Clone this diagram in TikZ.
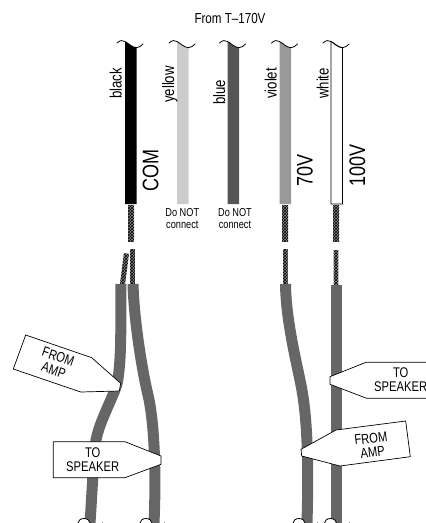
\documentclass[tikz,border=0pt]{standalone}
\usepackage{fontspec}
\usetikzlibrary{patterns}
\setmainfont[FakeStretch=0.8]{Liberation Sans}
\definecolor{cable}{HTML}{666666}
\definecolor{ylw}{HTML}{CCCCCC}
\definecolor{blu}{HTML}{555555}
\definecolor{vio}{HTML}{999999}
\tikzset{
  wirebar/.style={line width=0.8pt},
  wave/.style={line width=0.8pt, line cap=round},
  cablepath/.style={draw=cable, line width=11pt},
  braid/.style={pattern=crosshatch, pattern color=black, draw=none},
  tagbox/.style={draw=black, fill=white, line width=0.7pt, line join=round},
  tagtext/.style={font=\fontsize{14}{14}\selectfont, align=center, inner sep=0pt},
  colorlabel/.style={font=\fontsize{16.5}{16.5}\selectfont, rotate=90, anchor=base west, inner sep=0pt},
  taplabel/.style={font=\fontsize{22.5}{22.5}\selectfont, rotate=90, anchor=base west, inner sep=0pt},
  noconn/.style={font=\fontsize{11.5}{12}\selectfont, align=center, inner sep=0pt}
}
\newcommand{\wiretop}[1]{(#1,41.5) .. controls (#1+3,43) and (#1+7,47.5) .. (#1+11.5,47.7)}
\newcommand{\wavetop}[1]{\draw[wave] (#1-8,43) .. controls (#1-5,40) and (#1-2,40) .. (#1,41.5) .. controls (#1+3,43) and (#1+7,47.5) .. (#1+11.5,47.7) .. controls (#1+14,47.7) and (#1+16,46) .. (#1+18,44);}
\newcommand{\wavebot}[1]{\fill[white] (#1-6,523) arc (180:360:6 and 4.5) -- cycle;
  \draw[line width=0.8pt] (#1-6,523) arc (180:360:6 and 4.5);
  \fill[black!50] (#1+18,521.5) rectangle (#1+19,523);}
\begin{document}
\begin{tikzpicture}[x=1pt,y=-1pt]
\useasboundingbox (0,0) rectangle (426,523);
% upper braids
\foreach \x in {131,285,336}{
  \fill[black!45] (\x-3,205) rectangle (\x+3,241.5);
  \fill[braid] (\x-3,205) rectangle (\x+3,241.5);
}
% lower braids
\fill[black!45] (124,253) -- (129,254) -- (125,284) -- (120,284) -- cycle;
\fill[braid] (124,253) -- (129,254) -- (125,284) -- (120,284) -- cycle;
\foreach \x/\t in {132.5/249,285.3/249,336/250}{
  \fill[black!45] (\x-2.3,\t) rectangle (\x+2.3,285);
  \fill[braid] (\x-2.3,\t) rectangle (\x+2.3,285);
}
% cables
\draw[cablepath] (121,284) .. controls (120.5,320) and (122,360) .. (117,384) .. controls (112,400) and (100,420) .. (96,440) .. controls (93,465) and (92,495) .. (90,523);
\draw[cablepath] (133,284) .. controls (134,320) and (142,370) .. (148,395) .. controls (155,425) and (156,480) .. (154,523);
\draw[cablepath] (285.5,284) .. controls (286,320) and (296,360) .. (301,385) .. controls (308,420) and (308.5,470) .. (307,523);
\draw[cablepath] (336.5,285) -- (336.5,523);
% wires
\fill[black] \wiretop{125} -- (136.5,204) -- (125,204) -- cycle;
\fill[ylw] \wiretop{177} -- (188.5,204) -- (177,204) -- cycle;
\fill[blu] \wiretop{227.5} -- (239,204) -- (227.5,204) -- cycle;
\fill[vio] \wiretop{279.5} -- (291,204) -- (279.5,204) -- cycle;
\draw[wirebar, fill=white] \wiretop{331} -- (342.5,204) -- (331,204) -- cycle;
\wavetop{125}\wavetop{177}\wavetop{227.5}\wavetop{279.5}\wavetop{331}
\wavebot{84}\wavebot{146}\wavebot{299}\wavebot{330.5}
% texts
\node[inner sep=0pt, font=\fontsize{14.5}{14.5}\selectfont] (title) at (230,18.7) {From T–170V};
\node[colorlabel] (lblack) at (121.7,99) {black};
\node[colorlabel] (lyellow) at (174,103) {yellow};
\node[colorlabel] (lblue) at (225,105) {blue};
\node[colorlabel] (lviolet) at (276.7,99) {violet};
\node[colorlabel] (lwhite) at (328.7,99) {white};
\node[taplabel] (lcom) at (158.3,192) {COM};
\node[taplabel] (l70) at (312.7,187) {70V};
\node[taplabel] (l100) at (365,187) {100V};
\node[noconn] (dn1) at (182.3,219) {Do NOT\\connect};
\node[noconn] (dn2) at (235,219) {Do NOT\\connect};
% tags
\draw[tagbox] (25.7,335) -- (91.7,357.7) -- (120.7,383.3) -- (119.3,391) -- (80.7,392) -- (13.3,369) -- cycle;
\node[tagtext, rotate=-19] (t1) at (56,363.3) {FROM\\AMP};
\draw[tagbox] (53.3,441.7) -- (125,441.7) -- (161,456) -- (161,464.3) -- (125,477.7) -- (53.3,477.7) -- cycle;
\node[tagtext] (t2) at (92.7,460) {TO\\SPEAKER};
\draw[tagbox] (427,362.3) -- (366,362.3) -- (330,376.7) -- (330,384.3) -- (366.7,398.3) -- (427,398.3);
\node[tagtext] (t3) at (400.7,380) {TO\\SPEAKER};
\draw[tagbox] (405.7,421) -- (336,430) -- (301,449.3) -- (301.7,456) -- (340,466) -- (410.3,456.7) -- cycle;
\node[tagtext, rotate=7] (t4) at (371.7,445) {FROM\\AMP};
\end{tikzpicture}
\end{document}
